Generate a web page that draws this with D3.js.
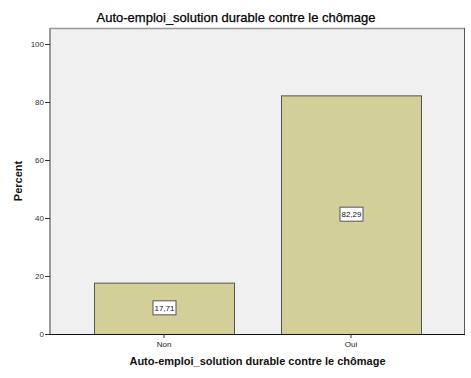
<!DOCTYPE html>
<html><head><meta charset="utf-8">
<script src="https://cdn.jsdelivr.net/npm/d3@7"></script>
<style>body{margin:0;background:#fff}svg{display:block}text{font-family:"Liberation Sans",Arial,sans-serif}</style>
</head><body>
<script>
const categories = ["Non", "Oui"];
const values = [17.71, 82.29];
const labels = ["17,71", "82,29"];
const yTicks = [0, 20, 40, 60, 80, 100];
const title = "Auto-emploi_solution durable contre le chômage";

const W = 471, H = 378;
const L = 50, R = 465, T = 28, B = 334;
const svg = d3.select("body").append("svg").attr("width", W).attr("height", H);

const y = d3.scaleLinear().domain([0, 100]).range([B, 44]);
const x = d3.scaleBand().domain(categories).range([L, R]).paddingInner(0.2513).paddingOuter(0.2353);

// plot background
svg.append("rect").attr("x", L).attr("y", T).attr("width", R - L).attr("height", B - T)
  .attr("fill", "#f0f0f0");
// frame lines
svg.append("line").attr("x1", L).attr("x2", R).attr("y1", T + 0.5).attr("y2", T + 0.5).attr("stroke", "#999").attr("stroke-width", 1.5);
svg.append("line").attr("x1", R - 0.5).attr("x2", R - 0.5).attr("y1", T).attr("y2", B).attr("stroke", "#555").attr("stroke-width", 1);

// bars
svg.selectAll("rect.bar").data(categories).enter().append("rect").attr("class", "bar")
  .attr("x", d => x(d) + 0.5).attr("y", (d, i) => y(values[i]) + 0.5)
  .attr("width", x.bandwidth()).attr("height", (d, i) => B - y(values[i]))
  .attr("fill", "#d3cf98").attr("stroke", "#555").attr("stroke-width", 1);

// y axis
const yAxis = d3.axisLeft(y).tickValues(yTicks).tickSize(5).tickSizeOuter(0);
const gy = svg.append("g").attr("transform", `translate(${L},0)`).call(yAxis);
gy.select(".domain").attr("stroke", "#999").attr("stroke-width", 2).attr("d", `M0,${T}V${B}`);
gy.selectAll(".tick line").attr("stroke", "#333");
gy.selectAll(".tick text").attr("font-size", 8).attr("fill", "#333").attr("x", -6);

// x axis
const xAxis = d3.axisBottom(x).tickSize(4).tickSizeOuter(0);
const gx = svg.append("g").attr("transform", `translate(0,${B})`).call(xAxis);
gx.select(".domain").attr("stroke", "#111").attr("stroke-width", 1).attr("d", `M${L},0.5H${R}`);
gx.selectAll(".tick line").attr("stroke", "#333");
gx.selectAll(".tick text").attr("font-size", 8).attr("fill", "#222").attr("y", 7);

// value labels
const lab = svg.selectAll("g.lab").data(categories).enter().append("g").attr("class", "lab")
  .attr("transform", (d, i) => `translate(${x(d) + x.bandwidth() / 2 + 0.5},${(y(values[i]) + B) / 2})`);
lab.append("rect").attr("x", -11.5).attr("y", -7.5).attr("width", 23).attr("height", 14)
  .attr("fill", "#fff").attr("stroke", "#555").attr("stroke-width", 1);
lab.append("text").attr("text-anchor", "middle").attr("dy", "0.35em").attr("y", -0.5)
  .attr("font-size", 8).attr("fill", "#111").text((d, i) => labels[i]);

// titles
svg.append("text").attr("x", 236).attr("y", 22).attr("text-anchor", "middle")
  .attr("font-size", 13).attr("fill", "#000").attr("stroke", "#000").attr("stroke-width", 0.25).text(title);
svg.append("text").attr("x", (L + R) / 2).attr("y", 365).attr("text-anchor", "middle")
  .attr("font-size", 11).attr("font-weight", "bold").attr("fill", "#111").text(title);
svg.append("text").attr("transform", "translate(22,181) rotate(-90)").attr("text-anchor", "middle")
  .attr("font-size", 11).attr("font-weight", "bold").attr("fill", "#111").text("Percent");
</script>
</body></html>
